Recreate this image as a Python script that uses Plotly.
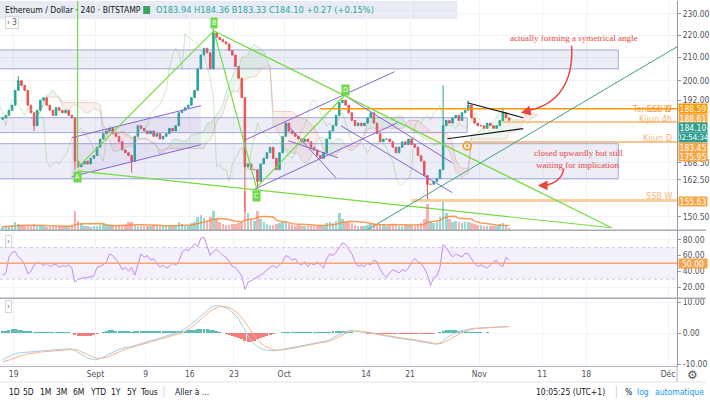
import plotly.graph_objects as go
import pandas as pd
import numpy as np

# ---------------- data (12h bars) ----------------
start = pd.Timestamp("2019-08-17 06:00")
first_open = 184.5
closes = [
    185, 186, 188, 190, 196, 200, 198, 196, 190, 187, 182, 188, 192, 193, 190, 188, 186, 189, 188, 187,
    188, 186, 185, 169, 167, 168, 169, 168, 170, 171,
    174, 177, 179, 180, 181, 179, 178, 176, 173, 172, 171, 169, 178, 182, 181, 180, 179, 180, 178, 179,
    177, 178, 179, 181, 180, 182, 187, 188, 189, 190,
    193, 196, 205, 211, 214, 212, 205, 221, 219, 218, 217, 216, 213, 211, 206, 201, 193, 167, 168, 166,
    166, 162, 168, 170, 172, 174, 170, 166, 172, 178,
    183, 180, 179, 178, 177, 176, 177, 176, 174, 173, 171, 170, 172, 177, 180, 182, 186, 191, 192, 190,
    187, 184, 182, 183, 182, 183, 185, 187, 183, 179,
    176, 177, 177, 176, 174, 172, 174, 176, 175, 177, 175, 174, 171, 169, 164, 161, 161, 162, 163, 166,
    182, 184, 183, 185, 186, 184, 187, 188, 190, 185, 183, 182,
    182, 181, 183, 182, 181, 182, 184, 187, 185, 184.1,
]
wick_high = {5: 202, 67: 223, 140: 198, 148: 192, 159: 189}
wick_low = {10: 180, 23: 166, 41: 165, 77: 152, 81: 159.5, 135: 156}

volumes = [
    8, 9, 10, 12, 18, 14, 12, 10, 12, 11, 14, 10, 12, 9, 8, 8, 9, 10, 10, 9, 9, 10, 12, 45, 22, 14, 10, 9, 8, 9,
    10, 12, 14, 12, 12, 11, 10, 12, 13, 12, 18, 20, 12, 10, 9, 10, 11, 10, 12, 11, 10, 9, 11, 10, 10, 12, 18, 14, 10, 12,
    16, 20, 30, 35, 28, 22, 30, 45, 25, 18, 14, 12, 12, 14, 14, 16, 20, 90, 40, 25, 22, 45, 25, 18, 14, 12, 12, 14, 16, 18,
    20, 15, 12, 11, 12, 10, 11, 10, 9, 10, 11, 12, 13, 16, 18, 16, 22, 40, 25, 18, 20, 16, 12, 10, 10, 11, 12, 14, 16, 14,
    15, 12, 11, 12, 14, 12, 10, 11, 12, 13, 12, 11, 14, 16, 25, 60, 20, 16, 18, 30, 65, 40, 25, 20, 22, 18, 16, 18, 20, 16, 14, 12,
    12, 11, 10, 9, 9, 10, 14, 16, 12, 6,
]

rsi = [
    35, 37, 58, 64, 65, 58, 55, 48, 37, 40, 48, 51, 50, 47, 50, 46, 48, 49, 45, 47,
    46, 48, 44, 26, 30, 31, 32, 32, 33, 34, 45, 47, 48, 52, 62, 60, 55, 50, 42, 45,
    40, 45, 35, 50, 62, 58, 60, 54, 56, 50, 45, 48, 44, 46, 50, 48, 52, 64, 68, 66,
    70, 75, 71, 82, 83, 72, 60, 65, 68, 64, 60, 58, 52, 46, 45, 40, 34, 17, 26, 28,
    30, 32, 35, 38, 42, 45, 47, 44, 48, 52, 60, 58, 54, 56, 50, 48, 52, 46, 50, 48,
    52, 48, 44, 56, 62, 60, 64, 70, 76, 74, 68, 62, 52, 46, 48, 46, 50, 48, 54, 52,
    42, 36, 32, 38, 42, 40, 38, 42, 40, 44, 52, 56, 52, 50, 44, 36, 22, 32, 34, 45,
    74, 70, 64, 58, 62, 60, 58, 63, 62, 56, 50, 46, 48, 46, 44, 48, 52, 54, 48, 46,
    58, 54,
]

macd = [
    -8.6, -8.2, -7.6, -7.0, -6.6, -6.4, -6.3, -6.2, -6.1, -6.0, -5.9, -5.9,
    -5.8, -5.7, -5.6, -5.5, -5.4, -5.3, -5.2, -5.1, -5.0, -5.0, -5.1, -5.7,
    -6.4, -7.0, -7.5, -8.0, -8.3, -8.5, -8.5, -8.2, -7.7, -7.1, -6.5, -6.0,
    -5.6, -5.2, -4.9, -4.6, -4.4, -4.3, -4.0, -3.7, -3.4, -3.1, -2.8, -2.5,
    -2.2, -1.9, -1.6, -1.3, -1.0, -0.7, -0.4, -0.1, 0.3, 0.8, 1.4, 2.1,
    2.9, 3.8, 4.8, 5.8, 6.7, 7.6, 8.2, 8.7, 8.9, 8.8, 8.6, 8.2,
    7.6, 6.8, 5.8, 4.6, 3.0, 1.0, -0.9, -2.4, -3.5, -4.3, -4.9, -5.3,
    -5.5, -5.7, -5.7, -5.6, -5.4, -5.2, -5.0, -4.8, -4.6, -4.4, -4.2, -4.1,
    -3.9, -3.8, -3.6, -3.4, -3.2, -3.0, -2.8, -2.5, -2.1, -1.6, -1.0, -0.4,
    0.2, 0.6, 0.8, 0.8, 0.7, 0.6, 0.5, 0.4, 0.2, 0.0, -0.2, -0.4,
    -0.6, -0.9, -1.1, -1.3, -1.5, -1.6, -1.7, -1.8, -1.9, -2.0, -2.2, -2.4,
    -2.6, -2.8, -3.0, -3.2, -3.4, -3.5, -3.5, -3.2, -2.4, -1.6, -0.9, -0.4,
    0.1, 0.5, 0.8, 1.1, 1.3, 1.5, 1.6, 1.7, 1.8, 1.8, 1.9, 1.9,
    1.9, 2.0, 2.0, 2.1, 2.1, 2.2,
]
signal = [
    -9.2, -9.0, -8.7, -8.3, -7.9, -7.5, -7.2, -6.9, -6.7, -6.5, -6.3, -6.2,
    -6.1, -6.0, -5.9, -5.8, -5.7, -5.6, -5.5, -5.4, -5.3, -5.2, -5.1, -5.2,
    -5.5, -5.9, -6.4, -6.9, -7.4, -7.8, -8.1, -8.2, -8.1, -7.8, -7.4, -6.9,
    -6.4, -6.0, -5.6, -5.2, -4.9, -4.7, -4.5, -4.2, -3.9, -3.6, -3.3, -3.0,
    -2.7, -2.4, -2.1, -1.8, -1.5, -1.2, -0.9, -0.6, -0.3, 0.1, 0.6, 1.2,
    1.9, 2.7, 3.6, 4.6, 5.5, 6.4, 7.2, 7.8, 8.3, 8.6, 8.7, 8.6,
    8.3, 7.8, 7.1, 6.2, 5.0, 3.6, 2.0, 0.4, -1.0, -2.2, -3.2, -4.0,
    -4.6, -5.0, -5.3, -5.5, -5.5, -5.4, -5.3, -5.1, -4.9, -4.7, -4.5, -4.3,
    -4.2, -4.0, -3.8, -3.6, -3.4, -3.2, -3.0, -2.8, -2.5, -2.1, -1.6, -1.0,
    -0.4, 0.1, 0.4, 0.6, 0.7, 0.7, 0.6, 0.5, 0.4, 0.2, 0.0, -0.2,
    -0.4, -0.6, -0.8, -1.0, -1.2, -1.4, -1.5, -1.6, -1.7, -1.8, -1.9, -2.1,
    -2.3, -2.5, -2.7, -2.9, -3.1, -3.3, -3.4, -3.4, -3.1, -2.6, -2.0, -1.4,
    -0.8, -0.3, 0.2, 0.6, 0.9, 1.2, 1.4, 1.5, 1.6, 1.7, 1.7, 1.8,
    1.8, 1.9, 1.9, 2.0, 2.0, 2.1,
]

price_ticks = [150.5, 162.5, 168.5, 192, 200, 210, 220, 230]
rsi_ticks = [20, 40, 60, 80]
macd_ticks = [-10, 0, 10]
date_ticks = ["2019-08-19", "2019-09-01", "2019-09-09", "2019-09-16", "2019-09-23", "2019-10-01",
              "2019-10-14", "2019-10-21", "2019-11-01", "2019-11-11", "2019-11-18", "2019-12-01"]
date_labels = ["19", "Sept", "9", "16", "23", "Oct", "14", "21", "Nov", "11", "18", "Déc"]

# drawings (date, price)
bands = [  # (x0, x1, low, high)
    ("2019-08-10", "2019-11-23 02:00", 205.0, 213.3),
    ("2019-08-10", "2019-10-30 02:00", 179.4, 185.1),
    ("2019-08-10", "2019-11-23 02:00", 162.9, 175.3),
]
green_lines = [
    [("2019-08-29 04:00", 166.7), ("2019-08-29 04:00", 245)],
    [("2019-08-29 04:00", 166.7), ("2019-09-19 19:00", 222.0)],
    [("2019-09-19 19:00", 222.0), ("2019-09-26 14:00", 159.9)],
    [("2019-09-26 14:00", 159.9), ("2019-10-10 16:00", 194.2)],
    [("2019-08-29 04:00", 165.6), ("2019-11-22 00:00", 147.0)],
    [("2019-09-19 19:00", 222.0), ("2019-11-22 00:00", 147.0)],
]
green_labels = [("A", "2019-08-29 04:00", 163.6), ("B", "2019-09-19 19:00", 225.7),
                ("C", "2019-09-26 14:00", 157.2), ("D", "2019-10-10 16:00", 196.2)]
purple_lines = [
    [("2019-08-28 05:00", 177.5), ("2019-09-17 18:00", 189.8)],
    [("2019-08-28 05:00", 163.6), ("2019-09-17 18:00", 174.9)],
    [("2019-09-24 13:00", 176.4), ("2019-10-18 13:00", 203.8)],
    [("2019-09-26 03:00", 159.2), ("2019-10-19 01:00", 183.2)],
    [("2019-10-01 04:00", 183.2), ("2019-10-09 05:30", 163.2)],
    [("2019-10-01 15:30", 176.4), ("2019-10-09 13:00", 170.2)],
    [("2019-10-10 16:00", 193.8), ("2019-10-27 17:00", 168.4)],
    [("2019-10-10 00:30", 182.0), ("2019-10-27 17:00", 158.2)],
]
teal_line = [("2019-10-13 23:00", 146.1), ("2019-12-02 10:00", 214.7)]
triangle = [
    [("2019-10-30 02:00", 191.0), ("2019-11-07 23:30", 185.1)],
    [("2019-10-26 22:00", 177.1), ("2019-11-07 23:30", 180.9)],
]
hlines = [  # (start, price, color, width)
    ("2019-10-06 17:00", 188.59, "#ff9800", 1.3),
    ("2019-11-04 12:00", 183.45, "#f9c58c", 2),
    ("2019-10-30 21:00", 175.95, "#f8c48a", 2),
    ("2019-10-21 06:00", 155.63, "#f8cf9f", 3),
]

# ---------------- geometry helpers ----------------
PR, PB = 681.0, 366.0
def px(x):
    return x / PR
def py(y):
    return (PB - y) / PB

n = len(closes)
dates = [start + pd.Timedelta(hours=12 * i) for i in range(n)]
opens = [first_open] + closes[:-1]
highs = [max(o, c) for o, c in zip(opens, closes)]
lows = [min(o, c) for o, c in zip(opens, closes)]
for k, v in wick_high.items():
    highs[k] = v
for k, v in wick_low.items():
    lows[k] = v

fig = go.Figure()
NOH = dict(hoverinfo="skip", showlegend=False)

# bands
for x0, x1, lo, hi in bands:
    fig.add_trace(go.Scatter(x=[x0, x1, x1, x0, x0], y=[lo, lo, hi, hi, lo], mode="lines", fill="toself",
                             fillcolor="rgba(110,118,196,0.13)", line=dict(color="rgba(120,128,205,0.65)", width=1),
                             xaxis="x", yaxis="y", **NOH))
# channel 1 fill
p1, p2 = purple_lines[0], purple_lines[1]
fig.add_trace(go.Scatter(x=[p1[0][0], p1[1][0], p2[1][0], p2[0][0], p1[0][0]],
                         y=[p1[0][1], p1[1][1], p2[1][1], p2[0][1], p1[0][1]], mode="lines", fill="toself",
                         fillcolor="rgba(149,117,205,0.10)", line=dict(width=0), **NOH))

# ichimoku computed from bars (12h equivalents)
H = pd.Series(highs); L = pd.Series(lows)
tenkan = (H.rolling(3, min_periods=1).max() + L.rolling(3, min_periods=1).min()) / 2
kijun = (H.rolling(9, min_periods=1).max() + L.rolling(9, min_periods=1).min()) / 2
spanA = ((tenkan + kijun) / 2).tolist()
spanB = ((H.rolling(17, min_periods=1).max() + L.rolling(17, min_periods=1).min()) / 2).tolist()
fwd = [d + pd.Timedelta(hours=12 * 9) for d in dates]
back = [d - pd.Timedelta(hours=12 * 9) for d in dates]
i = 0
while i < n:
    up = spanA[i] >= spanB[i]
    j = i
    while j + 1 < n and (spanA[j + 1] >= spanB[j + 1]) == up:
        j += 1
    e = min(j + 1, n - 1)
    xs = fwd[i:e + 1]
    fig.add_trace(go.Scatter(x=xs + xs[::-1], y=spanA[i:e + 1] + spanB[i:e + 1][::-1], mode="lines",
                             fill="toself", line=dict(width=0),
                             fillcolor="rgba(76,175,80,0.10)" if up else "rgba(239,83,80,0.09)", **NOH))
    i = j + 1
fig.add_trace(go.Scatter(x=fwd, y=spanA, mode="lines", line=dict(color="rgba(120,190,120,0.35)", width=1), **NOH))
fig.add_trace(go.Scatter(x=fwd, y=spanB, mode="lines", line=dict(color="rgba(235,120,120,0.35)", width=1), **NOH))
fig.add_trace(go.Scatter(x=back, y=closes, mode="lines", line=dict(color="rgba(110,180,60,0.30)", width=1), **NOH))

# volume
vcol = ["rgba(38,166,154,0.45)" if c >= o else "rgba(239,83,80,0.45)" for o, c in zip(opens, closes)]
fig.add_trace(go.Bar(x=dates, y=volumes, marker=dict(color=vcol, line=dict(width=0)),
                     width=12 * 3600 * 1000 * 0.8, xaxis="x", yaxis="y4", **NOH))
vma = pd.Series(volumes).rolling(10, min_periods=1).mean().tolist()
fig.add_trace(go.Scatter(x=dates, y=vma, mode="lines", line=dict(color="rgba(245,140,60,0.85)", width=1.5),
                         xaxis="x", yaxis="y4", **NOH))

# candles
fig.add_trace(go.Candlestick(x=dates, open=opens, high=highs, low=lows, close=closes,
                             increasing=dict(line=dict(color="#26a69a", width=1), fillcolor="#26a69a"),
                             decreasing=dict(line=dict(color="#ef5350", width=1), fillcolor="#ef5350"),
                             whiskerwidth=0, xaxis="x", yaxis="y", **NOH))

def seg(pts, color, width, dash=None):
    fig.add_trace(go.Scatter(x=[p[0] for p in pts], y=[p[1] for p in pts], mode="lines",
                             line=dict(color=color, width=width, dash=dash), xaxis="x", yaxis="y", **NOH))

for s, p, c, w in hlines:
    seg([(s, p), ("2019-12-06", p)], c, w)
for pl in purple_lines:
    seg(pl, "#8a63cf", 1)
for gl in green_lines:
    seg(gl, "#74dc3e", 1.2)
seg(teal_line, "#3f9f86", 1)
for t in triangle:
    seg(t, "#131722", 1.1)
fig.add_trace(go.Scatter(x=["2019-10-30 02:00"], y=[174.5], mode="markers",
                         marker=dict(symbol="circle-open-dot", size=8, color="#ff9800", line=dict(width=1.5)),
                         xaxis="x", yaxis="y", **NOH))

# RSI
fig.add_trace(go.Scatter(x=dates, y=rsi, mode="lines", line=dict(color="#c486f5", width=1),
                         xaxis="x2", yaxis="y2", **NOH))

# MACD
hist = [m - s for m, s in zip(macd, signal)]
hcol = ["rgba(38,166,154,0.75)" if h >= 0 else "rgba(239,83,80,0.75)" for h in hist]
fig.add_trace(go.Bar(x=dates, y=hist, marker=dict(color=hcol, line=dict(width=0)),
                     width=12 * 3600 * 1000 * 0.95, xaxis="x3", yaxis="y3", **NOH))
fig.add_trace(go.Scatter(x=dates, y=macd, mode="lines", line=dict(color="#9fcdf6", width=1),
                         xaxis="x3", yaxis="y3", **NOH))
fig.add_trace(go.Scatter(x=dates, y=signal, mode="lines", line=dict(color="#f7b28a", width=1),
                         xaxis="x3", yaxis="y3", **NOH))

# ---------------- layout ----------------
FONT = "Liberation Sans Narrow, DejaVu Sans Condensed, Roboto, sans-serif"
xr = ["2019-08-16 20:00", "2019-12-02 10:00"]
grid = "#f1f3f8"
axx = dict(type="date", range=xr, showgrid=True, gridcolor=grid, tickvals=date_ticks, ticktext=date_labels,
           zeroline=False, fixedrange=True)
tickfont = dict(family=FONT, size=8.5, color="#50535e")
fig.update_layout(
    width=710, height=402, margin=dict(l=0, r=29, t=0, b=36),
    paper_bgcolor="white", plot_bgcolor="white", showlegend=False, hovermode=False,
    bargap=0,
    xaxis=dict(axx, domain=[0, 1], anchor="y", showticklabels=False, rangeslider=dict(visible=False)),
    xaxis2=dict(axx, domain=[0, 1], anchor="y2", showticklabels=False),
    xaxis3=dict(axx, domain=[0, 1], anchor="y3", showticklabels=True, tickfont=tickfont, ticks="",
                showline=True, linecolor="#b2b5be", linewidth=1),
    yaxis=dict(type="log", domain=[py(230), 1], range=[np.log10(146.2), np.log10(236.3)], side="right",
               tickvals=price_ticks, ticktext=[f"{v:.2f}" for v in price_ticks], tickfont=tickfont,
               showgrid=True, gridcolor=grid, showline=True, linecolor="#9598a1", linewidth=1,
               ticks="outside", ticklen=3, tickcolor="#9598a1", zeroline=False, fixedrange=True),
    yaxis4=dict(overlaying="y", range=[0, 520], visible=False, fixedrange=True),
    yaxis2=dict(domain=[py(298), py(230)], range=[5.8, 91.9], side="right", tickvals=rsi_ticks,
                ticktext=[f"{v:.2f}" for v in rsi_ticks], tickfont=tickfont, showgrid=True, gridcolor=grid,
                showline=True, linecolor="#9598a1", ticks="outside", ticklen=3, tickcolor="#9598a1",
                zeroline=False, fixedrange=True),
    yaxis3=dict(domain=[0, py(298)], range=[-10.6, 11.3], side="right", tickvals=macd_ticks,
                ticktext=[f"{v:.2f}" for v in macd_ticks], tickfont=tickfont, showgrid=True, gridcolor=grid,
                showline=True, linecolor="#9598a1", ticks="outside", ticklen=3, tickcolor="#9598a1",
                zeroline=False, fixedrange=True),
)

shapes = []
# header background
shapes.append(dict(type="rect", xref="paper", yref="paper", x0=0, x1=px(460), y0=py(18), y1=py(0),
                   fillcolor="rgba(226,230,243,0.8)", line=dict(width=0), layer="below"))
shapes.append(dict(type="rect", xref="paper", yref="paper", x0=px(144), x1=px(151), y0=py(13), y1=py(5),
                   fillcolor="#3fa35f", line=dict(width=0)))
# RSI band and lines
shapes.append(dict(type="rect", xref="paper", yref="y2", x0=0, x1=1, y0=30, y1=70,
                   fillcolor="rgba(149,106,230,0.10)", line=dict(width=0), layer="below"))
for v in (30, 70):
    shapes.append(dict(type="line", xref="paper", yref="y2", x0=0, x1=1, y0=v, y1=v,
                       line=dict(color="#cfc7e3", width=1, dash="dot")))
shapes.append(dict(type="line", xref="paper", yref="y2", x0=0, x1=1, y0=50, y1=50,
                   line=dict(color="#f5a66e", width=1.5)))
# panel separators and frame
for yy in (230, 298):
    shapes.append(dict(type="line", xref="paper", yref="paper", x0=0, x1=710 / PR, y0=py(yy), y1=py(yy),
                       line=dict(color="#a7aab2", width=1.5)))
shapes.append(dict(type="line", xref="paper", yref="paper", x0=0, x1=710 / PR, y0=py(382), y1=py(382),
                   line=dict(color="#e0e3eb", width=1)))
shapes.append(dict(type="line", xref="paper", yref="paper", x0=1, x1=1, y0=py(382), y1=py(366),
                   line=dict(color="#b2b5be", width=1)))
for xx in (165, 620):
    shapes.append(dict(type="line", xref="paper", yref="paper", x0=px(xx), x1=px(xx), y0=py(398), y1=py(386),
                       line=dict(color="#d1d4dc", width=1)))
# red curved arrows
RED = "#e8453c"
shapes.append(dict(type="path", xref="paper", yref="paper",
                   path=f"M {px(575)},{py(45)} C {px(577)},{py(82)} {px(561)},{py(104)} {px(531)},{py(110)}",
                   line=dict(color=RED, width=1.5)))
shapes.append(dict(type="path", xref="paper", yref="paper",
                   path=f"M {px(567)},{py(168)} C {px(566)},{py(178)} {px(557)},{py(184)} {px(547)},{py(185)}",
                   line=dict(color=RED, width=1.5)))
fig.update_layout(shapes=shapes)

ann = []
def text(x, y, t, size=9, color="#131722", anchor="left", family=FONT, **kw):
    ann.append(dict(x=px(x), y=py(y), xref="paper", yref="paper", text=t, showarrow=False, xanchor=anchor,
                    yanchor="middle", font=dict(size=size, color=color, family=family), **kw))

text(3, 9, "Ethereum / Dollar · 240 · BITSTAMP", size=8.6, color="#131722")
text(155, 9, "O183.94 H184.36 B183.33 C184.10 +0.27 (+0.15%)", size=9.2, color="#26a69a")
text(5, 22, "› 3", size=8, color="#50535e", bordercolor="#d1d4dc", borderwidth=1, borderpad=1, bgcolor="white")
text(5, 241, "›", size=8, color="#50535e", bordercolor="#d1d4dc", borderwidth=1, borderpad=1, bgcolor="white")
text(5, 306, "›", size=8, color="#50535e", bordercolor="#d1d4dc", borderwidth=1, borderpad=1, bgcolor="white")

# red notes
SERIF = "Liberation Serif, DejaVu Serif, serif"
text(577, 37, "actually forming a symetrical angle", size=9, color=RED, anchor="center", family=SERIF)
text(582, 152, "closed upwardly but still", size=9, color=RED, anchor="center", family=SERIF)
text(581, 164, "waiting for implication", size=9, color=RED, anchor="center", family=SERIF)
for hx, hy, ax, ay in ((524, 112, 9, -2), (541, 185, 7, 0)):
    ann.append(dict(x=px(hx), y=py(hy), xref="paper", yref="paper", text="", showarrow=True, arrowhead=2,
                    arrowsize=1.3, arrowwidth=1.5, arrowcolor=RED, ax=ax, ay=ay))

# ABCD labels
for t, d, p in green_labels:
    ann.append(dict(x=d, y=np.log10(p), xref="x", yref="y", text=t, showarrow=False,
                    font=dict(size=7, color="white", family=FONT), bgcolor="#6fd84a", borderpad=1))

# level names left of the axis
ORG = "rgba(245,150,50,0.85)"
text(678, 108, "Tenkan W", size=9, color=ORG, anchor="right")
text(678, 108, "SSB D", size=9, color=ORG, anchor="right")
text(678, 118, "Kijun 4h", size=9, color="rgba(245,160,70,0.8)", anchor="right")
text(678, 137, "Kijun D", size=9, color="rgba(245,160,70,0.8)", anchor="right")
text(678, 196, "SSB W", size=9, color="rgba(245,160,70,0.8)", anchor="right")

# colored price labels on the axis
for t, y, bg in (("188.59", 108, "#ff9800"), ("188.61", 118, "#f9ab4a"), ("184.10", 127, "#2f9e8f"),
                 ("02:54:34", 137, "#2f9e8f"), ("183.45", 147, "#f9a544"), ("175.95", 156, "#f9a544"),
                 ("155.63", 201, "#f9a544"), ("50.00", 263.5, "#f7a24b")):
    ann.append(dict(x=px(682), y=py(y), xref="paper", yref="paper", text=t, showarrow=False, xanchor="left",
                    yanchor="middle", width=28, height=9, align="center", bgcolor=bg, borderpad=0,
                    font=dict(size=7.8 if ":" in t else 8.5, color="white", family=FONT)))

# bottom toolbar
for t, x in (("1D", 15), ("5D", 29), ("1M", 46), ("3M", 62), ("6M", 79), ("YTD", 99), ("1Y", 117),
             ("5Y", 133), ("Tous", 150)):
    text(x, 392, t, size=8.5, color="#131722", anchor="center")
text(174, 392, "Aller à ...", size=8.5, color="#131722")
text(611, 392, "10:05:25 (UTC+1)", size=8.5, color="#131722", anchor="right")
text(632, 392, "%", size=8.5, color="#131722", anchor="center")
text(647, 392, "log", size=8.5, color="#2196f3", anchor="center")
text(684, 392, "automatique", size=8.5, color="#2196f3", anchor="center")
text(697, 375, "⚙", size=12, color="#50535e", anchor="center", family="DejaVu Sans")

fig.update_layout(annotations=ann)
fig.write_html("out.html")
